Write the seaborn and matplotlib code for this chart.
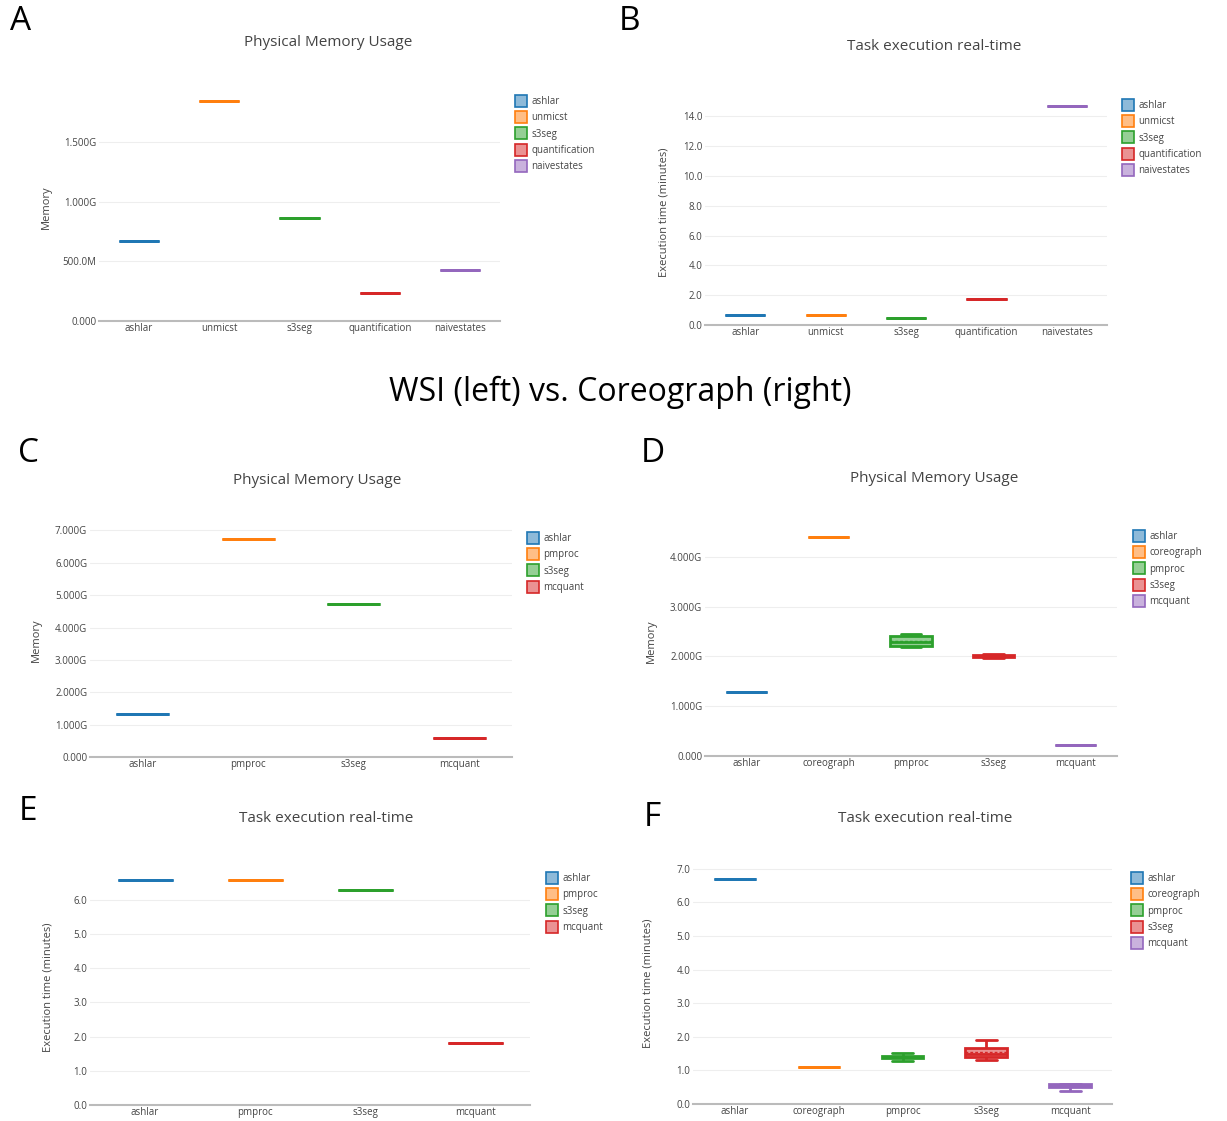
import matplotlib.pyplot as plt
import seaborn as sns
import pandas as pd
from matplotlib.colors import to_rgba
from matplotlib.lines import Line2D

# DATA (memory in GB, time in minutes)
wsi_tasks = ['ashlar', 'unmicst', 's3seg', 'quantification', 'naivestates']
wsi_mem = [[0.67], [1.84], [0.86], [0.235], [0.43]]
wsi_time = [[0.65], [0.65], [0.45], [1.72], [14.67]]

tma_tasks = ['ashlar', 'pmproc', 's3seg', 'mcquant']
tma_mem = [[1.32], [6.75], [4.74], [0.59]]
tma_time = [[6.58], [6.58], [6.29], [1.81]]

core_tasks = ['ashlar', 'coreograph', 'pmproc', 's3seg', 'mcquant']
core_mem = [[1.29], [4.40], [2.18, 2.21, 2.29, 2.41, 2.46],
            [1.97, 1.98, 2.00, 2.03, 2.04], [0.23]]
core_time = [[6.70], [1.10], [1.29, 1.37, 1.40, 1.43, 1.52],
             [1.30, 1.38, 1.42, 1.50, 1.62, 1.72, 1.90], [0.40, 0.50, 0.53, 0.60, 0.60]]

mem_ticks_a = [0, 0.5, 1.0, 1.5]
mem_labels_a = ['0.000', '500.0M', '1.000G', '1.500G']
mem_ticks_c = [0, 1, 2, 3, 4, 5, 6, 7]
mem_labels_c = ['0.000', '1.000G', '2.000G', '3.000G', '4.000G', '5.000G', '6.000G', '7.000G']
mem_ticks_d = [0, 1, 2, 3, 4]
mem_labels_d = ['0.000', '1.000G', '2.000G', '3.000G', '4.000G']

sns.set_theme(style="white")
plt.rcParams['font.family'] = ['Open Sans', 'DejaVu Sans']

colors = ['#1f77b4', '#ff7f0e', '#2ca02c', '#d62728', '#9467bd']
TXT = '#444444'
W, H = 1227, 1121

fig = plt.figure(figsize=(W / 100, H / 100), dpi=100)


def panel(box, tasks, samples, ylim, yticks, yticklabels, ylabel, ylabel_x,
          title, title_xy, legend_xy, letter, letter_xy):
    l, t, r, b = box
    ax = fig.add_axes([l / W, 1 - b / H, (r - l) / W, (b - t) / H])
    df = pd.DataFrame({'task': [k for k, s in zip(tasks, samples) for _ in s],
                       'value': [v for s in samples for v in s]})
    for i, task in enumerate(tasks):
        c = colors[i]
        sns.boxplot(data=df[df.task == task], x='task', y='value', order=tasks, ax=ax,
                    color=c, saturation=1, width=0.5, whis=(0, 100), showfliers=False,
                    linecolor=c, linewidth=2,
                    boxprops={'facecolor': to_rgba(c, 0.5)},
                    showmeans=True, meanline=True,
                    meanprops={'color': c, 'linestyle': (0, (2, 1.5)), 'linewidth': 1})
    ax.set_ylim(*ylim)
    ax.set_yticks(yticks)
    ax.set_yticklabels(yticklabels)
    ax.set_xlabel('')
    ax.set_ylabel(ylabel, fontsize=8, color=TXT)
    ax.yaxis.set_label_coords((ylabel_x - l) / (r - l), 0.5)
    ax.yaxis.grid(True, color='#eeeeee', lw=0.8)
    ax.set_axisbelow(True)
    sns.despine(ax=ax, left=True)
    ax.spines['bottom'].set_color('#bbbbbb')
    ax.spines['bottom'].set_linewidth(1.5)
    ax.tick_params(length=0, labelsize=7, labelcolor=TXT)
    ax.tick_params(axis='x', pad=1.5)
    ax.tick_params(axis='y', pad=2)

    handles = [Line2D([], [], marker='s', linestyle='', markersize=8,
                      markerfacecolor=to_rgba(c, 0.5), markeredgecolor=c,
                      markeredgewidth=1.2) for c in colors[:len(tasks)]]
    fig.legend(handles, tasks, loc='upper left',
               bbox_to_anchor=(legend_xy[0] / W, 1 - legend_xy[1] / H),
               frameon=False, fontsize=7, handlelength=1, handletextpad=0.6,
               labelspacing=0.55, borderaxespad=0, borderpad=0, labelcolor=TXT)
    fig.text(title_xy[0] / W, 1 - title_xy[1] / H, title, ha='center', va='center',
             fontsize=11, color=TXT)
    fig.text(letter_xy[0] / W, 1 - letter_xy[1] / H, letter, ha='center', va='center',
             fontsize=24, color='black')
    return ax


panel((99, 94, 500, 321), wsi_tasks, wsi_mem, (0, 1.9), mem_ticks_a, mem_labels_a,
      'Memory', 52, 'Physical Memory Usage', (328, 43), (516, 96), 'A', (21, 22))
panel((705, 100, 1107, 325), wsi_tasks, wsi_time, (0, 15.1),
      [0, 2, 4, 6, 8, 10, 12, 14], ['0.0', '2.0', '4.0', '6.0', '8.0', '10.0', '12.0', '14.0'],
      'Execution time (minutes)', 669, 'Task execution real-time', (934, 47), (1123, 100),
      'B', (629, 22))
panel((90, 524, 512, 757), tma_tasks, tma_mem, (0, 7.2), mem_ticks_c, mem_labels_c,
      'Memory', 42, 'Physical Memory Usage', (317, 480), (528, 533), 'C', (29, 453))
panel((705, 527, 1117, 756), core_tasks, core_mem, (0, 4.6), mem_ticks_d, mem_labels_d,
      'Memory', 657, 'Physical Memory Usage', (934, 478), (1134, 531), 'D', (653, 453))
panel((90, 869, 530, 1105), tma_tasks, tma_time, (0, 6.9),
      [0, 1, 2, 3, 4, 5, 6], ['0.0', '1.0', '2.0', '3.0', '4.0', '5.0', '6.0'],
      'Execution time (minutes)', 53, 'Task execution real-time', (326, 818), (547, 873),
      'E', (28, 812))
panel((693, 862, 1112, 1104), core_tasks, core_time, (0, 7.2),
      [0, 1, 2, 3, 4, 5, 6, 7], ['0.0', '1.0', '2.0', '3.0', '4.0', '5.0', '6.0', '7.0'],
      'Execution time (minutes)', 653, 'Task execution real-time', (925, 818), (1132, 873),
      'F', (652, 818))

fig.text(620 / W, 1 - 392 / H, 'WSI (left) vs. Coreograph (right)', ha='center', va='center',
         fontsize=23, color='black')

fig.savefig('out.png', dpi=100)
